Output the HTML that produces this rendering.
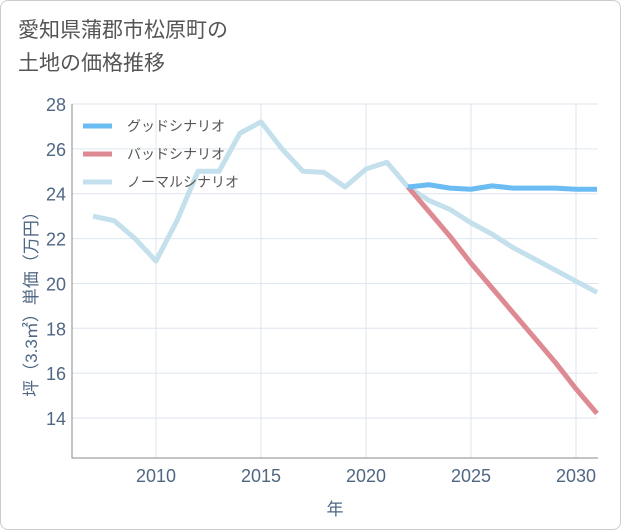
<!DOCTYPE html>
<html><head><meta charset="utf-8"><style>
body{margin:0;width:621px;height:530px;background:#fff;font-family:"Liberation Sans","Noto Sans CJK JP",sans-serif;}
#card{position:absolute;left:0;top:0;width:619px;height:528px;border:1px solid #ccc;border-radius:8px;background:#fff;}
#title{position:absolute;left:18px;top:14px;font-size:21px;line-height:33px;color:#555;}
</style></head><body>
<div id="card"></div>
<div id="title">愛知県蒲郡市松原町の<br>土地の価格推移</div>
<svg id="chart" width="621" height="530" style="position:absolute;left:0;top:0"></svg>
<script>
const years=[2007,2008,2009,2010,2011,2012,2013,2014,2015,2016,2017,2018,2019,2020,2021,2022,2023,2024,2025,2026,2027,2028,2029,2030,2031];
const normal=[23.0,22.8,22.0,21.0,22.8,25.0,25.0,26.7,27.2,26.0,25.0,24.95,24.3,25.1,25.4,24.3,23.7,23.3,22.7,22.2,21.6,21.1,20.6,20.1,19.6];
const goodYears=[2022,2023,2024,2025,2026,2027,2028,2029,2030,2031];
const good=[24.3,24.4,24.25,24.2,24.35,24.25,24.25,24.25,24.2,24.2];
const bad=[24.3,23.2,22.1,20.9,19.8,18.7,17.6,16.5,15.3,14.2];
const yTicks=[14,16,18,20,22,24,26,28];
const xTicks=[2010,2015,2020,2025,2030];
const L=72,R=598,T=104,B=458;
const x=v=>156+(v-2010)*21;
const y=v=>104+(28-v)*22.43;
const svg=document.getElementById('chart');
const NS='http://www.w3.org/2000/svg';
const TC='#506784';
function mk(t,a){const e=document.createElementNS(NS,t);for(const k in a)e.setAttribute(k,a[k]);svg.appendChild(e);return e;}
yTicks.forEach(v=>{
 const g=mk('line',{x1:L,x2:R,y1:y(v),y2:y(v),stroke:'#dde6ee','stroke-width':1});
 
 
 const t=mk('text',{x:L-6,y:y(v)+7,'text-anchor':'end','font-size':18,fill:TC});
 t.textContent=v;
 
 
});
xTicks.forEach(v=>{
 const g=mk('line',{x1:x(v),x2:x(v),y1:T,y2:B,stroke:'#dde6ee','stroke-width':1});
 
 
 const t=mk('text',{x:x(v),y:B+24,'text-anchor':'middle','font-size':18,fill:TC});
 t.textContent=v;
 
 
});
const fr=mk('path',{d:`M${L} ${T}V${B}H${R}`,fill:'none',stroke:'#888','stroke-width':1});


function line(xs,vs,c,name){
 const p=mk('polyline',{points:xs.map((yr,i)=>x(yr)+','+y(vs[i])).join(' '),fill:'none',stroke:c,'stroke-width':5,'stroke-linejoin':'round'});
 
 
}
line(years,normal,'#c3e0ec','normal-scenario-line');
line(goodYears,bad,'#de8a92','bad-scenario-line');
line(goodYears,good,'#6bbcf2','good-scenario-line');
const leg=[['グッドシナリオ','#6bbcf2'],['バッドシナリオ','#de8a92'],['ノーマルシナリオ','#c3e0ec']];
leg.forEach((d,i)=>{
 const yy=126+i*28;
 const l=mk('line',{x1:83,x2:112,y1:yy,y2:yy,stroke:d[1],'stroke-width':5});
 
 
 const t=mk('text',{x:127,y:yy+5,'font-size':14,fill:'#555'});
 t.textContent=d[0];
 
 
});
const xt=mk('text',{x:335,y:515,'text-anchor':'middle','font-size':17,fill:TC});
xt.textContent='年';


const yt=mk('text',{x:0,y:0,'text-anchor':'middle','font-size':17,fill:TC,transform:'translate(37,300) rotate(-90)'});
yt.textContent='坪（3.3㎡）単価（万円）';


</script>
</body></html>
